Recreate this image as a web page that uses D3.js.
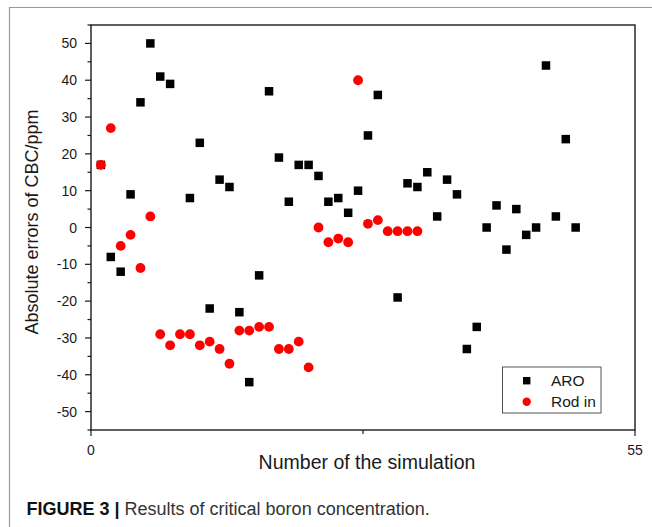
<!DOCTYPE html>
<html>
<head>
<meta charset="utf-8">
<script src="https://cdn.jsdelivr.net/npm/d3@7"></script>
<style>
  html, body { margin: 0; padding: 0; background: #fff; }
  svg { display: block; font-family: "Liberation Sans", Arial, sans-serif; }
</style>
</head>
<body>
<div id="chart"></div>
<script>
// simulation numbers and absolute CBC errors (ppm)
const aroX = [1,2,3,4,5,6,7,8,10,11,12,13,14,15,16,17,18,19,20,21,22,23,24,25,26,27,28,29,31,32,33,34,35,36,37,38,39,40,41,42,43,44,45,46,47,48,49];
const aroY = [17,-8,-12,9,34,50,41,39,8,23,-22,13,11,-23,-42,-13,37,19,7,17,17,14,7,8,4,10,25,36,-19,12,11,15,3,13,9,-33,-27,0,6,-6,5,-2,0,44,3,24,0];
const rodX = [1,2,3,4,5,6,7,8,9,10,11,12,13,14,15,16,17,18,19,20,21,22,23,24,25,26,27,28,29,30,31,32,33];
const rodY = [17,27,-5,-2,-11,3,-29,-32,-29,-29,-32,-31,-33,-37,-28,-28,-27,-27,-33,-33,-31,-38,0,-4,-3,-4,40,1,2,-1,-1,-1,-1];
const yTicks = [-50,-40,-30,-20,-10,0,10,20,30,40,50];
const xTickLabels = [0, 55];
const legendNames = ['ARO', 'Rod in'];

(function(){
  const W = 652, H = 527;
  const svg = d3.select('#chart').append('svg').attr('width', W).attr('height', H);
  const ink = '#1a1a1a';

  // outer frame (only top + left visible in crop)
  svg.append('path').attr('d', `M9.5,${H} V7.5 H${W}`)
    .attr('fill','none').attr('stroke','#9a9a9a').attr('stroke-width',1.2);

  const x = d3.scaleLinear().domain([0,55]).range([91,635]);
  const y = d3.scaleLinear().domain([-55,55]).range([430,25]);

  const g = svg.append('g');

  // plot box
  g.append('rect')
    .attr('x', x(0)).attr('y', y(55))
    .attr('width', x(55)-x(0)).attr('height', y(-55)-y(55))
    .attr('fill','none').attr('stroke', ink).attr('stroke-width',1.4);

  // y ticks: major every 10, minor every 5
  const yMinor = d3.range(-55, 56, 5).filter(v => v % 10 !== 0);
  g.selectAll('line.ymin').data(yMinor).join('line')
    .attr('x1', x(0)-3.5).attr('x2', x(0))
    .attr('y1', d=>y(d)).attr('y2', d=>y(d))
    .attr('stroke', ink).attr('stroke-width',1.2);
  g.selectAll('line.ymaj').data(yTicks).join('line')
    .attr('x1', x(0)-6).attr('x2', x(0))
    .attr('y1', d=>y(d)).attr('y2', d=>y(d))
    .attr('stroke', ink).attr('stroke-width',1.2);
  g.selectAll('text.ytl').data(yTicks).join('text')
    .attr('x', 77).attr('y', d=>y(d))
    .attr('dy','0.36em')
    .attr('text-anchor','end')
    .attr('font-size','14px')
    .attr('fill', ink)
    .text(d=>d);

  // x ticks
  g.selectAll('line.xmaj').data(xTickLabels).join('line')
    .attr('x1', d=>x(d)).attr('x2', d=>x(d))
    .attr('y1', y(-55)).attr('y2', y(-55)+6)
    .attr('stroke', ink).attr('stroke-width',1.2);
  g.append('line')
    .attr('x1', x(27.5)).attr('x2', x(27.5))
    .attr('y1', y(-55)).attr('y2', y(-55)+4)
    .attr('stroke', ink).attr('stroke-width',1.2);
  g.selectAll('text.xtl').data(xTickLabels).join('text')
    .attr('x', d=>x(d)).attr('y', 455)
    .attr('text-anchor','middle')
    .attr('font-size','14px')
    .attr('fill', ink)
    .text(d=>d);

  // axis titles
  svg.append('text')
    .attr('x', 367).attr('y', 469)
    .attr('text-anchor','middle')
    .attr('font-size','19.5px')
    .attr('fill', ink)
    .text('Number of the simulation');
  svg.append('text')
    .attr('transform', 'translate(38,222) rotate(-90)')
    .attr('text-anchor','middle')
    .attr('font-size','18px')
    .attr('fill', ink)
    .text('Absolute errors of CBC/ppm');

  // markers
  const sq = 8.5;
  const aro = aroX.map((v,i)=>({x:v, y:aroY[i]}));
  const rod = rodX.map((v,i)=>({x:v, y:rodY[i]}));
  g.selectAll('rect.aro').data(aro).join('rect')
    .attr('x', d=>x(d.x)-sq/2).attr('y', d=>y(d.y)-sq/2)
    .attr('width', sq).attr('height', sq)
    .attr('fill','#000');
  g.selectAll('circle.rod').data(rod).join('circle')
    .attr('cx', d=>x(d.x)).attr('cy', d=>y(d.y))
    .attr('r', 4.9)
    .attr('fill','#ff0000');

  // legend
  const lg = svg.append('g');
  lg.append('rect')
    .attr('x', 502.5).attr('y', 367).attr('width', 98.5).attr('height', 46)
    .attr('fill','#fff').attr('stroke','#555').attr('stroke-width',1);
  lg.append('rect')
    .attr('x', 526.7-3.7).attr('y', 380.7-3.7).attr('width', 7.4).attr('height', 7.4)
    .attr('fill','#000');
  lg.append('circle')
    .attr('cx', 526.7).attr('cy', 401.7).attr('r', 4.2)
    .attr('fill','#ff0000');
  lg.selectAll('text').data(legendNames).join('text')
    .attr('x', 551).attr('y', (d,i)=> i===0 ? 386 : 407)
    .attr('font-size','15.5px')
    .attr('fill', ink)
    .text(d=>d);

  // caption
  const cap = svg.append('text')
    .attr('x', 26.5).attr('y', 515)
    .attr('font-size','18px')
    .attr('fill','#111');
  cap.append('tspan').attr('font-weight','bold').text('FIGURE 3 | ');
  cap.append('tspan').attr('fill','#333').text('Results of critical boron concentration.');
})();
</script>
</body>
</html>
